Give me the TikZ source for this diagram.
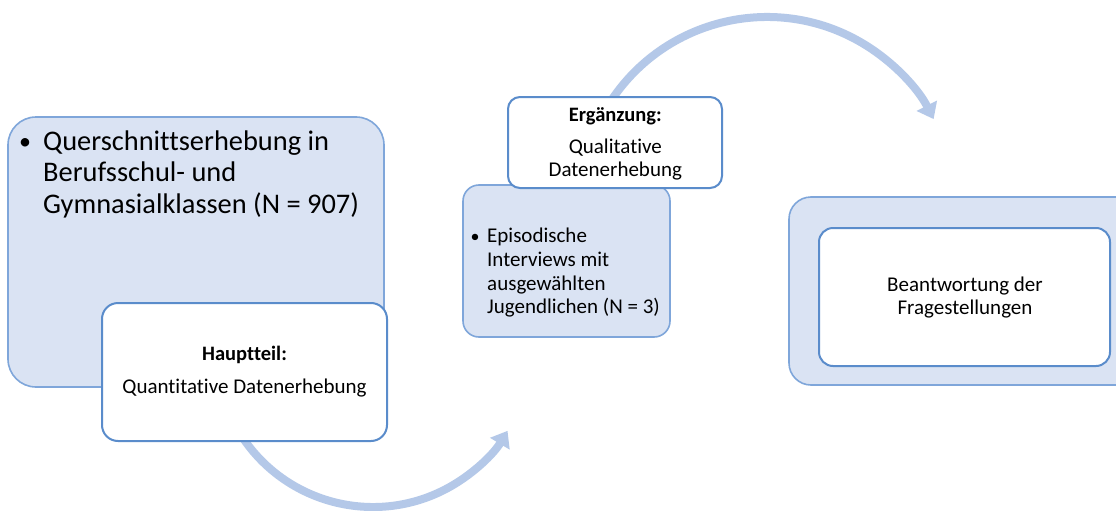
\documentclass[tikz,border=0pt]{standalone}
\usepackage{fontspec}
\setmainfont{Carlito}[Ligatures={NoCommon}]
\usetikzlibrary{arrows.meta}
\definecolor{lfill}{HTML}{DAE3F3}
\definecolor{lline}{HTML}{7FA6DA}
\definecolor{dline}{HTML}{5A8CCB}
\definecolor{arrc}{HTML}{B4C8E8}
\tikzset{
  lightbox/.style={draw=lline, fill=lfill, line width=1.6pt, inner sep=0pt},
  whitebox/.style={draw=dline, fill=white, line width=2pt, inner sep=0pt},
  bigtxt/.style={font=\fontsize{28.4}{31}\selectfont, inner sep=0pt, anchor=base west},
  smalltxt/.style={font=\fontsize{21}{23}\selectfont, inner sep=0pt},
  boldtxt/.style={font=\fontsize{20.5}{23}\selectfont\bfseries, inner sep=0pt, anchor=base},
  flowarrow/.style={draw=arrc, line width=8pt, -{Triangle[width=22pt,length=15pt]}},
}
\begin{document}
\begin{tikzpicture}[x=1pt,y=-1pt]
\clip (0,0) rectangle (1116,511);
\fill[white] (0,0) rectangle (1116,511);
% arrows (behind boxes)
\coordinate (a1s) at (237.0,428.5);
\coordinate (a2s) at (608.4,104.9);
\draw[flowarrow] (a1s) arc[start angle=150, end angle=31, radius=157] coordinate (a1e);
\draw[flowarrow] (a2s) arc[start angle=-148, end angle=-27, radius=187] coordinate (a2e);
% left group
\node[lightbox, rounded corners=28pt, minimum width=376pt, minimum height=270pt] (quer) at (196,252) {};
\node[whitebox, rounded corners=16pt, minimum width=285pt, minimum height=138pt] (haupt) at (244.5,372) {};
\node[bigtxt, anchor=base, font=\fontsize{24}{31}\selectfont] (b1) at (25,149) {\textbullet};
\node[bigtxt] (q1) at (43,150) {Querschnittserhebung in};
\node[bigtxt] (q2) at (43,181.5) {Berufsschul- und};
\node[bigtxt] (q3) at (43,213) {Gymnasialklassen (N = 907)};
\node[boldtxt] (h1) at (244.5,360) {Hauptteil:};
\node[smalltxt, anchor=base] (h2) at (244.5,393) {Quantitative Datenerhebung};
% middle group
\node[lightbox, rounded corners=16pt, minimum width=207pt, minimum height=152pt] (epi) at (566.5,261) {};
\node[whitebox, rounded corners=12pt, minimum width=214pt, minimum height=91pt] (erg) at (615,142.5) {};
\node[boldtxt] (e1) at (615.3,121) {Ergänzung:};
\node[smalltxt, anchor=base] (e2) at (615.3,153.7) {Qualitative};
\node[smalltxt, anchor=base] (e3) at (615.3,176.7) {Datenerhebung};
\node[smalltxt, anchor=base, font=\fontsize{18}{23}\selectfont] (b2) at (475,242) {\textbullet};
\node[smalltxt, anchor=base west] (p1) at (487,242.7) {Episodische};
\node[smalltxt, anchor=base west] (p2) at (487,266) {Interviews mit};
\node[smalltxt, anchor=base west] (p3) at (487,290) {ausgewählten};
\node[smalltxt, anchor=base west] (p4) at (487,313.3) {Jugendlichen (N = 3)};
% right group
\node[lightbox, rounded corners=22pt, minimum width=350pt, minimum height=188pt] (outer) at (964,291) {};
\node[whitebox, rounded corners=14pt, minimum width=291pt, minimum height=138pt] (inner) at (964.5,297) {};
\node[smalltxt, anchor=base] (r1) at (965,291.7) {Beantwortung der};
\node[smalltxt, anchor=base] (r2) at (965,314.3) {Fragestellungen};
\end{tikzpicture}
\end{document}
